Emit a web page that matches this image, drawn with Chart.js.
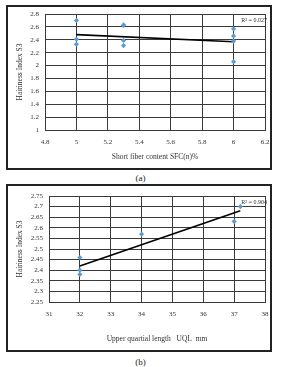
<!DOCTYPE html>
<html>
<head>
<meta charset="utf-8">
<script src="https://cdn.jsdelivr.net/npm/chart.js@4.4.1/dist/chart.umd.min.js"></script>
<style>
    body { margin: 0; background: #fff; width: 281px; height: 367px; position: relative; font-family: "Liberation Serif", serif; }
    .box { position: absolute; border: 2px solid #222; box-sizing: border-box; }
    .box canvas { display: block; }
    .cap { position: absolute; width: 281px; text-align: center; font-size: 9px; color: #222; }
</style>
</head>
<body>
<div class="box" style="left:6px; top:5px; width:266px; height:165px;"><canvas id="chartA" width="262" height="161"></canvas></div>
<div class="cap" style="top:173px;">(a)</div>
<div class="box" style="left:6px; top:184px; width:266px; height:168px;"><canvas id="chartB" width="262" height="164"></canvas></div>
<div class="cap" style="top:357px;">(b)</div>
<script>
// Chart (a): short fiber content vs hairiness
const sfcValues = [5, 5, 5, 5.3, 5.3, 5.3, 5.3, 6, 6, 6, 6];
const hairinessA = [2.70, 2.41, 2.33, 2.63, 2.62, 2.39, 2.31, 2.57, 2.46, 2.38, 2.06];
const trendAx = [5, 6];
const trendAy = [2.48, 2.37];
const labelA = 'R² = 0.027';

// Chart (b): upper quartile length vs hairiness
const uqlValues = [32, 32, 32, 34, 37, 37.2];
const hairinessB = [2.46, 2.40, 2.38, 2.57, 2.63, 2.70];
const trendBx = [32, 37.2];
const trendBy = [2.42, 2.68];
const labelB = 'R² = 0.904';

const yTitle = 'Hairiness Index S3';

function toPoints(xs, ys) {
    return xs.map((x, i) => ({ x: x, y: ys[i] }));
}

// trims float noise, no trailing zeros (1 not 1.0)
function fmt(v) {
    return String(Number(v.toFixed(2)));
}

// draws the R² text in the top right corner of the plot
const r2Label = {
    id: 'r2Label',
    afterDraw(chart, args, opts) {
        const ctx = chart.ctx;
        const area = chart.chartArea;
        ctx.save();
        ctx.font = '6px "Liberation Serif"';
        ctx.fillStyle = '#333';
        ctx.textAlign = 'right';
        ctx.textBaseline = 'middle';
        ctx.fillText(opts.text, area.right + 2, area.top + opts.dy);
        ctx.restore();
    }
};

function makeChart(id, xs, ys, tx, ty, xMin, xMax, xStep, yMin, yMax, yStep, xTitle, r2, yWidth, xHeight, topPad, dy) {
    const grid = { color: '#3a3a3a', lineWidth: 1, drawTicks: false };
    const tickFont = { family: 'Liberation Serif', size: 7 };
    new Chart(document.getElementById(id).getContext('2d'), {
        type: 'scatter',
        data: {
            datasets: [{
                data: toPoints(xs, ys),
                pointStyle: 'rectRot',
                pointRadius: 2.6,
                backgroundColor: '#5b9bd5',
                borderColor: '#5b9bd5',
                borderWidth: 0
            }, {
                type: 'line',
                data: toPoints(tx, ty),
                borderColor: '#000',
                borderWidth: 1.6,
                pointRadius: 0,
                fill: false
            }]
        },
        options: {
            responsive: false,
            animation: false,
            layout: { padding: { top: topPad, right: 5, bottom: 2, left: 4 } },
            plugins: {
                legend: { display: false },
                tooltip: { enabled: false },
                r2Label: { text: r2, dy: dy }
            },
            scales: {
                x: {
                    type: 'linear', min: xMin, max: xMax,
                    grid: grid,
                    border: { color: '#3a3a3a' },
                    ticks: { stepSize: xStep, font: tickFont, color: '#333', padding: 8, maxRotation: 0, autoSkip: false, callback: fmt },
                    title: { display: true, text: xTitle, font: { family: 'Liberation Serif', size: 7.5 }, color: '#333', padding: { top: 4 } },
                    afterFit(scale) { scale.height = xHeight; scale.paddingRight = 0; scale.paddingLeft = 0; }
                },
                y: {
                    min: yMin, max: yMax,
                    grid: grid,
                    border: { color: '#3a3a3a' },
                    ticks: { stepSize: yStep, font: tickFont, color: '#333', padding: 6, autoSkip: false, callback: fmt },
                    title: { display: true, text: yTitle, font: { family: 'Liberation Serif', size: 7.5 }, color: '#333' },
                    afterFit(scale) { scale.width = yWidth; scale.paddingTop = 0; scale.paddingBottom = 0; }
                }
            }
        },
        plugins: [r2Label]
    });
}

makeChart('chartA', sfcValues, hairinessA, trendAx, trendAy, 4.8, 6.2, 0.2, 1, 2.8, 0.2,
    'Short fiber content SFC(n)%', labelA, 33, 36, 7, 6);
makeChart('chartB', uqlValues, hairinessB, trendBx, trendBy, 31, 38, 1, 2.25, 2.75, 0.05,
    'Upper quartial length   UQL  mm', labelB, 37, 46, 10, 6);
</script>
</body>
</html>
